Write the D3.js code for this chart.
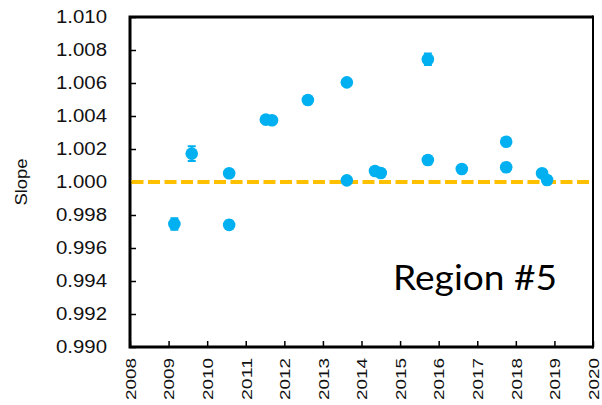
<!DOCTYPE html>
<html>
<head>
<meta charset="utf-8">
<script src="https://d3js.org/d3.v7.min.js"></script>
<style>
  body { margin: 0; background: #fff; }
  svg { display: block; }
</style>
</head>
<body>
<div id="chart"></div>
<script>
// values
var years  = [2009.15, 2009.6, 2010.57, 2010.57, 2011.52, 2011.68, 2012.61, 2013.62, 2013.62,
              2014.35, 2014.5, 2015.72, 2015.72, 2016.6, 2017.75, 2017.75, 2018.68, 2018.81]
var slopes = [0.99745, 1.00172, 1.00053, 0.99740, 1.00378, 1.00374, 1.00497, 1.00604, 1.00010,
              1.00067, 1.00055, 1.00744, 1.00133, 1.00079, 1.00244, 1.00089, 1.00053, 1.00012]
var errs   = [0.00035, 0.00045, 0.00015, 0.00025, 0.00015, 0.00015, 0.00015, 0.0002, 0.00015,
              0.00015, 0.00015, 0.00035, 0.00025, 0.00015, 0.00015, 0.00025, 0.00015, 0.00025]
var yTicks = [0.990, 0.992, 0.994, 0.996, 0.998, 1.000, 1.002, 1.004, 1.006, 1.008, 1.010]
var xTicks = [2008, 2009, 2010, 2011, 2012, 2013, 2014, 2015, 2016, 2017, 2018, 2019, 2020]
var refLine = 1.000
var label = 'Region #5'

function drawChart() {
    var W = 602, H = 405
    // plot box edges (don't call these top/left: window.top is taken)
    var x0 = 130, x1 = 593, y0 = 17, y1 = 347
    var blue = '#00b0f0'
    var gold = '#ffc000'
    var font = 'Liberation Sans, Arial, sans-serif'

    var svg = d3.select('#chart').append('svg').attr('width', W).attr('height', H)

    var x = d3.scaleLinear().domain([2008, 2020]).range([x0, x1])
    var y = d3.scaleLinear().domain([0.990, 1.010]).range([y1, y0])

    // y axis, inward ticks
    var gy = svg.append('g')
        .attr('transform', 'translate(' + x0 + ',0)')
        .call(d3.axisLeft(y).tickValues(yTicks).tickFormat(d3.format('.3f'))
            .tickSizeInner(-6).tickSizeOuter(0).tickPadding(23))
    gy.select('.domain').remove()
    gy.selectAll('line').attr('stroke', '#000').attr('stroke-width', 1.5)
    gy.selectAll('text')
        .attr('font-family', font)
        .attr('font-size', 18)
        .attr('textLength', 51)
        .attr('lengthAdjust', 'spacingAndGlyphs')
        .attr('fill', '#111')

    // x axis, inward ticks, rotated labels
    var gx = svg.append('g')
        .attr('transform', 'translate(0,' + y1 + ')')
        .call(d3.axisBottom(x).tickValues(xTicks).tickFormat(d3.format('d'))
            .tickSizeInner(-6).tickSizeOuter(0))
    gx.select('.domain').remove()
    gx.selectAll('line').attr('stroke', '#000').attr('stroke-width', 1.5)
    gx.selectAll('text')
        .attr('font-family', font)
        .attr('font-size', 15)
        .attr('textLength', 42)
        .attr('lengthAdjust', 'spacingAndGlyphs')
        .attr('fill', '#111')
        .attr('y', 0)
        .attr('x', -11)
        .attr('dy', '0.35em')
        .attr('text-anchor', 'end')
        .attr('transform', 'rotate(-90)')

    // frame
    svg.append('path')
        .attr('d', 'M' + x1 + ',' + y0 + 'L' + x0 + ',' + y0 + 'L' + x0 + ',' + y1 + 'L' + x1 + ',' + y1)
        .attr('fill', 'none').attr('stroke', '#000').attr('stroke-width', 3)
    svg.append('line')
        .attr('x1', x1).attr('x2', x1).attr('y1', y0 - 1.5).attr('y2', y1 + 1.5)
        .attr('stroke', '#000').attr('stroke-width', 2)

    // reference line
    svg.append('line')
        .attr('x1', x0 + 1.5).attr('x2', x1)
        .attr('y1', y(refLine)).attr('y2', y(refLine))
        .attr('stroke', gold).attr('stroke-width', 4)
        .attr('stroke-dasharray', '12,4.5')

    // points with error bars
    var pts = years.map(function(d, i) { return [d, slopes[i], errs[i]] })
    var g = svg.append('g')
    g.selectAll('line.err')
        .data(pts)
        .join('line')
        .attr('class', 'err')
        .attr('x1', function(d) { return x(d[0]) })
        .attr('x2', function(d) { return x(d[0]) })
        .attr('y1', function(d) { return y(d[1] - d[2]) })
        .attr('y2', function(d) { return y(d[1] + d[2]) })
        .attr('stroke', blue).attr('stroke-width', 2)
    g.selectAll('path.cap')
        .data(pts)
        .join('path')
        .attr('class', 'cap')
        .attr('d', function(d) {
            var cx = x(d[0])
            var lo = y(d[1] - d[2]), hi = y(d[1] + d[2])
            return 'M' + (cx - 4) + ',' + lo + 'H' + (cx + 4) + 'M' + (cx - 4) + ',' + hi + 'H' + (cx + 4)
        })
        .attr('stroke', blue).attr('stroke-width', 2)
    g.selectAll('circle')
        .data(pts)
        .join('circle')
        .attr('cx', function(d) { return x(d[0]) })
        .attr('cy', function(d) { return y(d[1]) })
        .attr('r', 6.3)
        .attr('fill', blue)

    // axis title
    svg.append('text')
        .attr('transform', 'translate(21,' + ((y0 + y1) / 2) + ') rotate(-90)')
        .attr('text-anchor', 'middle')
        .attr('dy', '0.35em')
        .attr('font-family', font)
        .attr('font-size', 16)
        .attr('textLength', 47)
        .attr('lengthAdjust', 'spacingAndGlyphs')
        .attr('fill', '#111')
        .text('Slope')

    // region label
    svg.append('text')
        .attr('x', 393).attr('y', 290)
        .attr('font-family', 'Lato, Open Sans, sans-serif')
        .attr('font-size', 35)
        .attr('textLength', 164)
        .attr('lengthAdjust', 'spacingAndGlyphs')
        .attr('fill', '#000')
        .text(label)
}

drawChart()
</script>
</body>
</html>
